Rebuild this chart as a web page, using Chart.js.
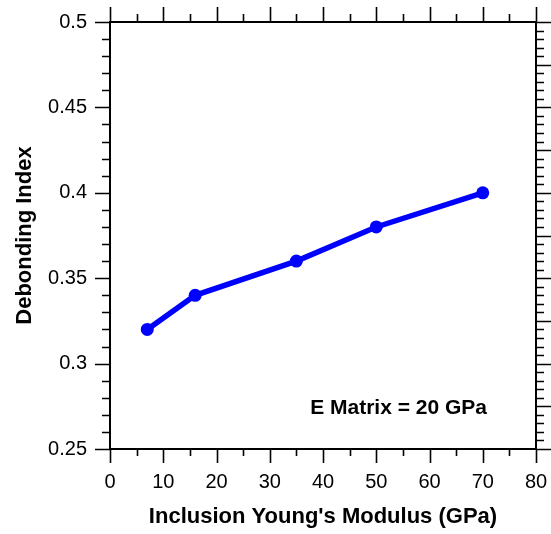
<!DOCTYPE html>
<html>
<head>
<meta charset="utf-8">
<script src="https://cdn.jsdelivr.net/npm/chart.js@4"></script>
<style>
  html, body { margin: 0; padding: 0; background: #fff; }
  #wrap { width: 551px; height: 534px; }
</style>
</head>
<body>
<div id="wrap"><canvas id="chart" width="551" height="534"></canvas></div>
<script>
// datos
const modulus = [7, 16, 35, 50, 70];
const debonding = [0.32, 0.34, 0.36, 0.38, 0.40];
const xTicks = [0, 10, 20, 30, 40, 50, 60, 70, 80];
const yTicks = [0.25, 0.3, 0.35, 0.4, 0.45, 0.5];
const note = "E Matrix = 20 GPa";

const FONT = "'Liberation Sans', Arial, sans-serif";

// marco y marcas menores en los cuatro lados
const framePlugin = {
  id: "frame",
  afterDraw(chart) {
    const ctx = chart.ctx;
    const a = chart.chartArea;
    const xs = chart.scales.x;
    const ys = chart.scales.y;
    ctx.save();
    ctx.strokeStyle = "#000";
    ctx.lineWidth = 2;
    ctx.strokeRect(a.left, a.top, a.right - a.left, a.bottom - a.top);

    ctx.lineWidth = 1.6;
    ctx.beginPath();
    // eje x: mayor cada 10, menor cada 5 (abajo y arriba, hacia afuera)
    for (let i = 0; i <= 16; i++) {
      const px = Math.round(xs.getPixelForValue(i * 5)) + 0.5;
      const len = i % 2 === 0 ? 14 : 7;
      ctx.moveTo(px, a.bottom); ctx.lineTo(px, a.bottom + len);
      ctx.moveTo(px, a.top); ctx.lineTo(px, a.top - len - 1);
    }
    // eje y izquierdo: mayor 0.05, menor 0.01
    for (let i = 0; i <= 25; i++) {
      const py = Math.round(ys.getPixelForValue(0.25 + i * 0.01)) + 0.5;
      const len = i % 5 === 0 ? 15 : 8;
      ctx.moveTo(a.left, py); ctx.lineTo(a.left - len, py);
    }
    // eje y derecho: mayor 0.025, menor 0.005
    for (let i = 0; i <= 50; i++) {
      const py = Math.round(ys.getPixelForValue(0.25 + i * 0.005)) + 0.5;
      const len = i % 5 === 0 ? 15 : 8;
      ctx.moveTo(a.right, py); ctx.lineTo(a.right + len, py);
    }
    ctx.stroke();

    // anotacion
    ctx.fillStyle = "#000";
    ctx.font = "bold 21px " + FONT;
    ctx.textAlign = "center";
    ctx.textBaseline = "middle";
    ctx.fillText(note, xs.getPixelForValue(54.2), ys.getPixelForValue(0.274));
    ctx.restore();
  }
};

const chart = new Chart(document.getElementById("chart").getContext("2d"), {
  type: "line",
  data: {
    datasets: [{
      data: modulus.map((x, i) => ({ x: x, y: debonding[i] })),
      borderColor: "#0000ff",
      backgroundColor: "#0000ff",
      borderWidth: 5.5,
      pointRadius: 6.5,
      pointBorderWidth: 0,
      fill: false,
      tension: 0
    }]
  },
  options: {
    responsive: false,
    animation: false,
    layout: { padding: { left: 0, top: 22, right: 15, bottom: 0 } },
    plugins: { legend: { display: false }, tooltip: { enabled: false } },
    scales: {
      x: {
        type: "linear",
        min: 0, max: 80,
        afterFit(scale) {
          scale.height = 85;
          scale.paddingLeft = 0;
          scale.paddingRight = 0;
        },
        afterBuildTicks(scale) { scale.ticks = xTicks.map(v => ({ value: v })); },
        grid: { display: false, drawTicks: false },
        border: { display: false },
        ticks: { color: "#000", font: { family: FONT, size: 20 }, padding: 21, maxRotation: 0 },
        title: {
          display: true,
          text: "Inclusion Young's Modulus (GPa)",
          color: "#000",
          font: { family: FONT, size: 22, weight: "bold" },
          padding: { top: 0, bottom: 4 }
        }
      },
      y: {
        type: "linear",
        min: 0.25, max: 0.5,
        afterFit(scale) {
          scale.width = 110;
          scale.paddingTop = 0;
          scale.paddingBottom = 0;
        },
        afterBuildTicks(scale) { scale.ticks = yTicks.map(v => ({ value: v })); },
        grid: { display: false, drawTicks: false },
        border: { display: false },
        ticks: {
          color: "#000", font: { family: FONT, size: 20 }, padding: 23,
          callback: (v) => String(Number(v.toFixed(2)))
        },
        title: {
          display: true,
          text: "Debonding Index",
          color: "#000",
          font: { family: FONT, size: 22, weight: "bold" },
          padding: { top: 12, bottom: 0 }
        }
      }
    }
  },
  plugins: [framePlugin]
});
</script>
</body>
</html>
